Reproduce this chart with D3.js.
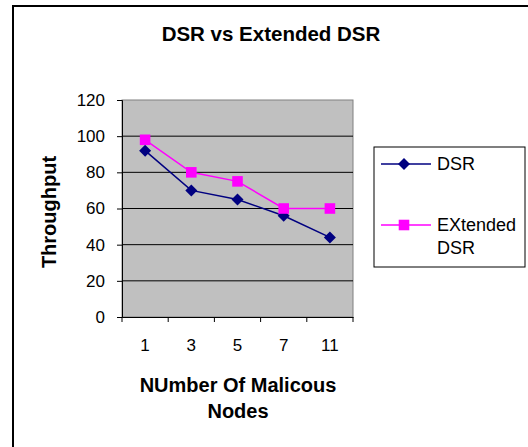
<!DOCTYPE html>
<html><head><meta charset="utf-8">
<script src="https://cdn.jsdelivr.net/npm/d3@7"></script>
<style>body{margin:0;background:#fff}svg{display:block;font-family:"Liberation Sans",Arial,sans-serif}</style>
</head><body>
<svg id="c" width="528" height="447"></svg>
<script>
const categories = ["1","3","5","7","11"];
const dsrValues = [92,70,65,56,44];
const extValues = [98,80,75,60,60];
const yTicks = [0,20,40,60,80,100,120];
const seriesNames = ["DSR","EXtended DSR"];

(function(){
const svg = d3.select("#c");
svg.append("rect").attr("x",13).attr("y",6).attr("width",530).attr("height",460)
  .attr("fill","#fff").attr("stroke","#000").attr("stroke-width",2);

const pL=122,pR=353,pT=100,pB=317;
const x = d3.scaleBand().domain(categories).range([pL,pR]);
const y = d3.scaleLinear().domain([0,120]).range([pB,pT]);

svg.append("rect").attr("x",pL).attr("y",pT).attr("width",pR-pL).attr("height",pB-pT)
  .attr("fill","#c0c0c0").attr("stroke","#808080");
svg.selectAll(".g").data(yTicks.filter(d=>d>0&&d<120)).enter().append("line")
  .attr("x1",pL).attr("x2",pR).attr("y1",d=>y(d)).attr("y2",d=>y(d))
  .attr("stroke","#000").attr("stroke-width",1);

const yAxis = d3.axisLeft(y).tickValues(yTicks).tickSize(5).tickPadding(12);
const gy = svg.append("g").attr("transform",`translate(${pL},0)`).call(yAxis);
gy.select(".domain").attr("stroke","#000");
gy.selectAll("text").attr("font-size",17).attr("font-family","Liberation Sans, Arial").attr("fill","#000");

const xAxis = d3.axisBottom(x).tickSize(0).tickPadding(22);
const gx = svg.append("g").attr("transform",`translate(0,${pB})`).call(xAxis);
gx.select(".domain").attr("stroke","#000");
gx.selectAll("text").attr("font-size",17).attr("font-family","Liberation Sans, Arial").attr("fill","#000");
const bounds = categories.map(c=>x(c)).concat([pR]);
svg.selectAll(".bt").data(bounds).enter().append("line")
  .attr("x1",d=>d).attr("x2",d=>d).attr("y1",pB).attr("y2",pB+5).attr("stroke","#000");

const cx = c=>x(c)+x.bandwidth()/2;
const line = d3.line().x((d,i)=>cx(categories[i])).y(d=>y(d));

svg.append("path").datum(extValues).attr("d",line).attr("fill","none").attr("stroke","#ff00ff").attr("stroke-width",1.5);
svg.append("path").datum(dsrValues).attr("d",line).attr("fill","none").attr("stroke","#000080").attr("stroke-width",1.5);

svg.selectAll(".ds").data(dsrValues).enter().append("path")
  .attr("d",d3.symbol(d3.symbolSquare,72)())
  .attr("transform",(d,i)=>`translate(${cx(categories[i])},${y(d)}) rotate(45)`)
  .attr("fill","#000080");
svg.selectAll(".es").data(extValues).enter().append("path")
  .attr("d",d3.symbol(d3.symbolSquare,112)())
  .attr("transform",(d,i)=>`translate(${cx(categories[i])},${y(d)})`)
  .attr("fill","#ff00ff");

svg.append("text").attr("x",271).attr("y",41).attr("text-anchor","middle")
  .attr("font-weight","bold").attr("font-size",20.5).text("DSR vs Extended DSR");
svg.append("text").attr("transform","translate(56,212) rotate(-90)").attr("text-anchor","middle")
  .attr("font-weight","bold").attr("font-size",20).text("Throughput");
const xt = svg.append("text").attr("text-anchor","middle").attr("font-weight","bold").attr("font-size",20);
xt.append("tspan").attr("x",238).attr("y",392).text("NUmber Of Malicous");
xt.append("tspan").attr("x",238).attr("y",418).text("Nodes");

svg.append("rect").attr("x",374).attr("y",147).attr("width",151).attr("height",120)
  .attr("fill","#fff").attr("stroke","#000");
const lg = [{name:seriesNames[0],c:"#000080",y:164,sym:"d"},{name:seriesNames[1],c:"#ff00ff",y:225,sym:"s"}];
lg.forEach(l=>{
  svg.append("line").attr("x1",381).attr("x2",431).attr("y1",l.y).attr("y2",l.y).attr("stroke",l.c).attr("stroke-width",1.5);
  if(l.sym==="d") svg.append("path").attr("d",d3.symbol(d3.symbolSquare,72)()).attr("transform",`translate(404,${l.y}) rotate(45)`).attr("fill",l.c);
  else svg.append("path").attr("d",d3.symbol(d3.symbolSquare,112)()).attr("transform",`translate(404,${l.y})`).attr("fill",l.c);
});
svg.append("text").attr("x",437).attr("y",170).attr("font-size",18).text(seriesNames[0]);
const t2 = svg.append("text").attr("font-size",18);
t2.append("tspan").attr("x",437).attr("y",231).text("EXtended");
t2.append("tspan").attr("x",437).attr("y",254).text("DSR");
})();
</script>
</body></html>
